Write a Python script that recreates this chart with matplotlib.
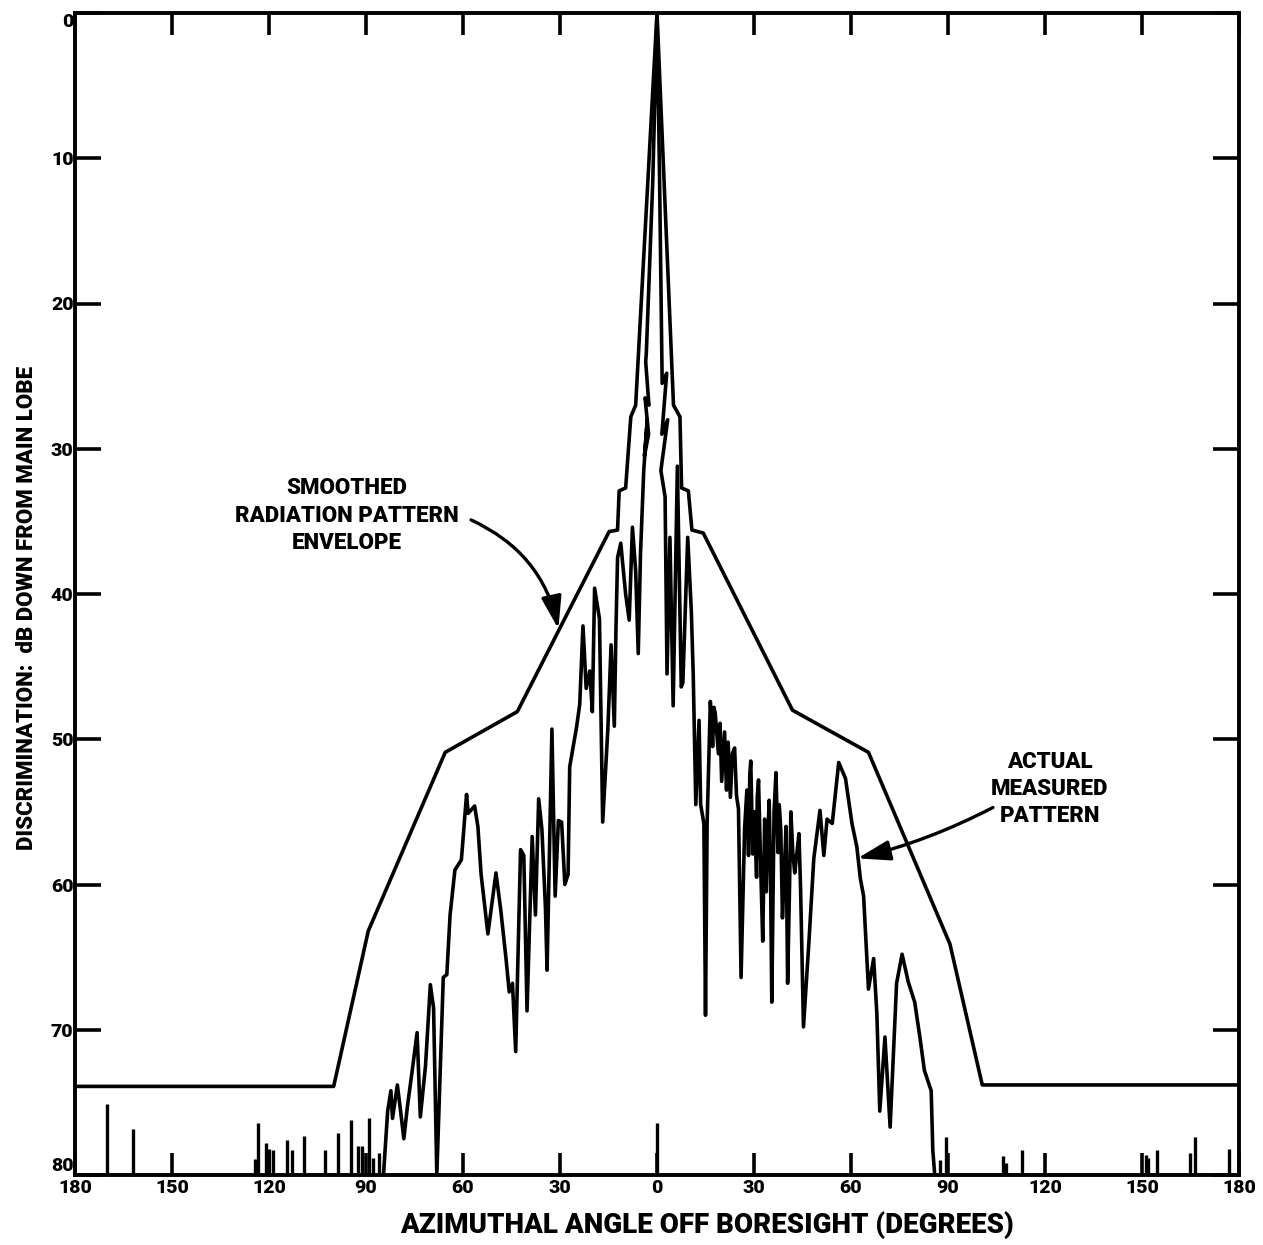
import matplotlib
matplotlib.use('Agg')
import matplotlib.pyplot as plt

FONT = ['Roboto', 'DejaVu Sans']

# smoothed envelope (deg off boresight, dB down from main lobe)
env_deg = [-180, -100.0, -89.3, -65.5, -43.2, -14.8, -12.2, -11.7, -9.7, -8.1, -6.6, 0.0,
           5.1, 7.1, 7.6, 9.7, 10.8, 14.3, 41.9, 65.4, 90.6, 100.6, 180]
env_db = [73.9, 73.9, 63.2, 50.9, 48.1, 35.7, 35.6, 32.9, 32.7, 27.8, 27.0, 0.0,
          27.0, 27.8, 32.7, 32.9, 35.6, 35.8, 48.0, 50.9, 64.1, 73.8, 73.8]

# measured pattern, left half up to the main lobe peak
left_deg = [-84.6, -83.3, -82.3, -81.8, -80.3, -79.3, -78.3, -77.2, -75.7, -74.2,
            -73.2, -71.6, -70.1, -69.1, -68.1, -66.1, -65.0, -64.0, -62.5, -60.5,
            -58.9, -58.4, -56.4, -55.4, -54.4, -52.3, -49.8, -48.3, -46.7, -45.7,
            -44.7, -43.7, -42.2, -41.2, -40.2, -38.6, -37.6, -36.6, -35.6, -34.5,
            -34.0, -32.5, -31.5, -30.5, -29.5, -28.5, -27.5, -27.0, -24.9, -23.9,
            -22.9, -21.9, -20.8, -20.0, -19.3, -17.8, -16.8, -15.2, -14.2, -13.2,
            -12.7, -12.2, -11.2, -10.7, -9.7, -8.6, -7.6, -6.6, -5.8, -5.1,
            -4.1, -3.0, -3.9, -2.6, -3.7, -2.5, -3.5, -3.3, -1.3, 0.0]
left_db = [80, 75.6, 74.2, 76.1, 73.8, 75.6, 77.5, 75.3, 72.8, 70.2,
           76.0, 72.5, 66.9, 68.5, 80, 66.4, 66.2, 62.1, 59.0, 58.3,
           53.8, 55.1, 54.6, 56.0, 59.3, 63.4, 59.2, 61.8, 65.1, 67.4,
           66.8, 71.5, 57.6, 58.0, 68.7, 56.7, 62.1, 54.1, 56.2, 61.6,
           65.9, 49.3, 60.8, 55.6, 55.7, 60.0, 59.3, 51.9, 49.2, 47.6,
           42.2, 46.5, 45.3, 48.1, 39.6, 41.7, 55.7, 49.3, 43.5, 49.1,
           42.5, 37.5, 36.5, 37.7, 40.0, 41.8, 35.4, 38.4, 44.1, 37.2,
           31.5, 28.0, 30.5, 29.0, 26.5, 27.0, 24.0, 23.4, 11.5, 0.0]

# measured pattern, right half
right_deg = [0.8, 1.6, 3.0, 1.5, 3.3, 1.2, 2.5, 3.1, 4.0, 5.0,
             6.3, 7.5, 8.0, 9.5, 10.6, 11.2, 12.0, 13.0, 13.5, 14.5,
             15.0, 15.5, 16.5, 17.2, 17.6, 18.0, 19.0, 19.5, 20.0, 20.9,
             21.5, 22.0, 22.7, 23.3, 24.0, 24.6, 25.2, 26.0, 27.1, 27.8,
             28.3, 28.7, 29.0, 29.6, 30.2, 30.8, 31.0, 31.4, 32.0, 32.7,
             33.3, 33.8, 34.2, 34.7, 35.1, 35.5, 36.2, 36.8, 37.4, 37.8,
             38.3, 38.8, 39.5, 39.9, 40.4, 41.0, 41.4, 42.0, 42.6, 43.2,
             43.9, 44.4, 45.3, 47.0, 48.5, 50.4, 51.6, 52.6, 54.2, 56.2,
             58.3, 60.3, 61.8, 62.9, 63.9, 65.4, 67.0, 68.0, 68.9, 70.5,
             72.1, 74.1, 75.8, 77.7, 79.7, 81.3, 82.7, 84.8, 85.3, 85.9]
right_db = [11.5, 25.5, 24.8, 29.0, 28.0, 31.5, 33.3, 45.5, 36.1, 47.7,
            31.2, 46.4, 46.1, 36.1, 41.1, 45.5, 54.5, 48.7, 54.5, 55.8,
            69.0, 55.8, 47.4, 50.5, 47.8, 48.2, 51.0, 48.9, 52.9, 49.5,
            53.5, 50.2, 54.0, 51.0, 50.6, 53.9, 54.8, 66.4, 56.1, 53.5,
            58.0, 52.4, 51.5, 57.9, 55.0, 59.5, 54.0, 52.8, 58.2, 63.9,
            55.5, 60.5, 57.1, 54.2, 59.0, 68.1, 55.0, 52.3, 57.8, 54.5,
            56.3, 62.3, 58.5, 56.0, 66.8, 60.0, 55.0, 57.8, 59.2, 58.0,
            56.5, 60.2, 69.8, 63.9, 58.2, 54.9, 58.0, 55.5, 55.8, 51.6,
            52.7, 55.8, 57.4, 59.6, 60.8, 67.2, 65.1, 68.9, 75.6, 70.5,
            76.7, 66.8, 64.8, 66.7, 68.1, 70.5, 72.8, 74.2, 78.3, 80]

# isolated back-lobe spikes rising off the 80 dB floor
spike_deg = [-170.0, -162.2, -124.4, -123.5, -121.0, -120.1, -118.9, -114.3, -112.8, -109.1,
             -102.6, -98.8, -94.5, -92.5, -91.2, -89.0, -87.8, -86.0, 0.0, 87.4,
             89.5, 107.1, 108.0, 112.8, 151.1, 152.0, 154.7, 164.8, 166.5, 176.8]
spike_db = [75.1, 76.8, 78.9, 76.4, 77.8, 78.2, 78.3, 77.6, 78.3, 77.3,
            78.3, 77.1, 76.2, 78.0, 78.0, 76.1, 78.8, 78.5, 76.4, 79.0,
            77.4, 78.7, 79.2, 78.3, 78.6, 78.8, 78.3, 78.5, 77.4, 78.2]

x_ticks = [-180, -150, -120, -90, -60, -30, 0, 30, 60, 90, 120, 150, 180]
x_labels = ['180', '150', '120', '90', '60', '30', '0', '30', '60', '90', '120', '150', '180']
y_ticks = [0, 10, 20, 30, 40, 50, 60, 70, 80]

fig = plt.figure(figsize=(12.63, 12.45), dpi=100)
ax = fig.add_axes([75 / 1263, 70 / 1245, 1164 / 1263, 1162 / 1245])

line_kw = dict(color='black', lw=2.6, solid_joinstyle='round', solid_capstyle='round')
ax.plot(env_deg, env_db, **line_kw)
ax.plot(left_deg + right_deg, left_db + right_db, **line_kw)
ax.vlines(spike_deg, spike_db, 80, color='black', lw=2.4)

ax.set_xlim(-180, 180)
ax.set_ylim(80, 0)
ax.set_xticks(x_ticks)
ax.set_xticklabels(x_labels)
ax.set_yticks(y_ticks)
ax.tick_params(direction='in', width=2.6, top=True, right=True, colors='black')
ax.tick_params(axis='x', length=16, pad=3)
ax.tick_params(axis='y', length=19, pad=1)
for lab in ax.get_xticklabels() + ax.get_yticklabels():
    lab.set_fontfamily(FONT)
    lab.set_fontweight('black')
    lab.set_fontsize(14)
# end labels sit inside the corners, clear of the x labels
ylabs = ax.get_yticklabels()
ylabs[0].set_verticalalignment('top')
ylabs[-1].set_verticalalignment('bottom')
for sp in ax.spines.values():
    sp.set_linewidth(2.8)

txt_kw = dict(fontweight='black', family=FONT, color='black')
fig.text(707 / 1263, 20 / 1245, 'AZIMUTHAL ANGLE OFF BORESIGHT (DEGREES)',
         ha='center', va='center', fontsize=20, **txt_kw)
fig.text(27 / 1263, (1245 - 608) / 1245, 'DISCRIMINATION:  dB DOWN FROM MAIN LOBE',
         ha='center', va='center', rotation=90, fontsize=16, **txt_kw)

ax.text(-96, 34.6, 'SMOOTHED\nRADIATION PATTERN\nENVELOPE', ha='center', va='center',
        fontsize=16, linespacing=1.3, **txt_kw)
ax.text(121.5, 53.4, 'ACTUAL\nMEASURED\nPATTERN', ha='center', va='center',
        fontsize=16, linespacing=1.3, **txt_kw)

arrow = dict(arrowstyle='-|>,head_length=0.9,head_width=0.28', color='black', lw=2.4,
             mutation_scale=22, shrinkA=0, shrinkB=0)
ax.annotate('', xy=(-30.5, 42.4), xytext=(-57.5, 34.9),
            arrowprops=dict(connectionstyle='arc3,rad=-0.25', **arrow))
ax.annotate('', xy=(62.0, 58.2), xytext=(103.9, 54.7),
            arrowprops=dict(connectionstyle='arc3,rad=-0.06', **arrow))

fig.savefig('out.png', dpi=100, facecolor='white')
